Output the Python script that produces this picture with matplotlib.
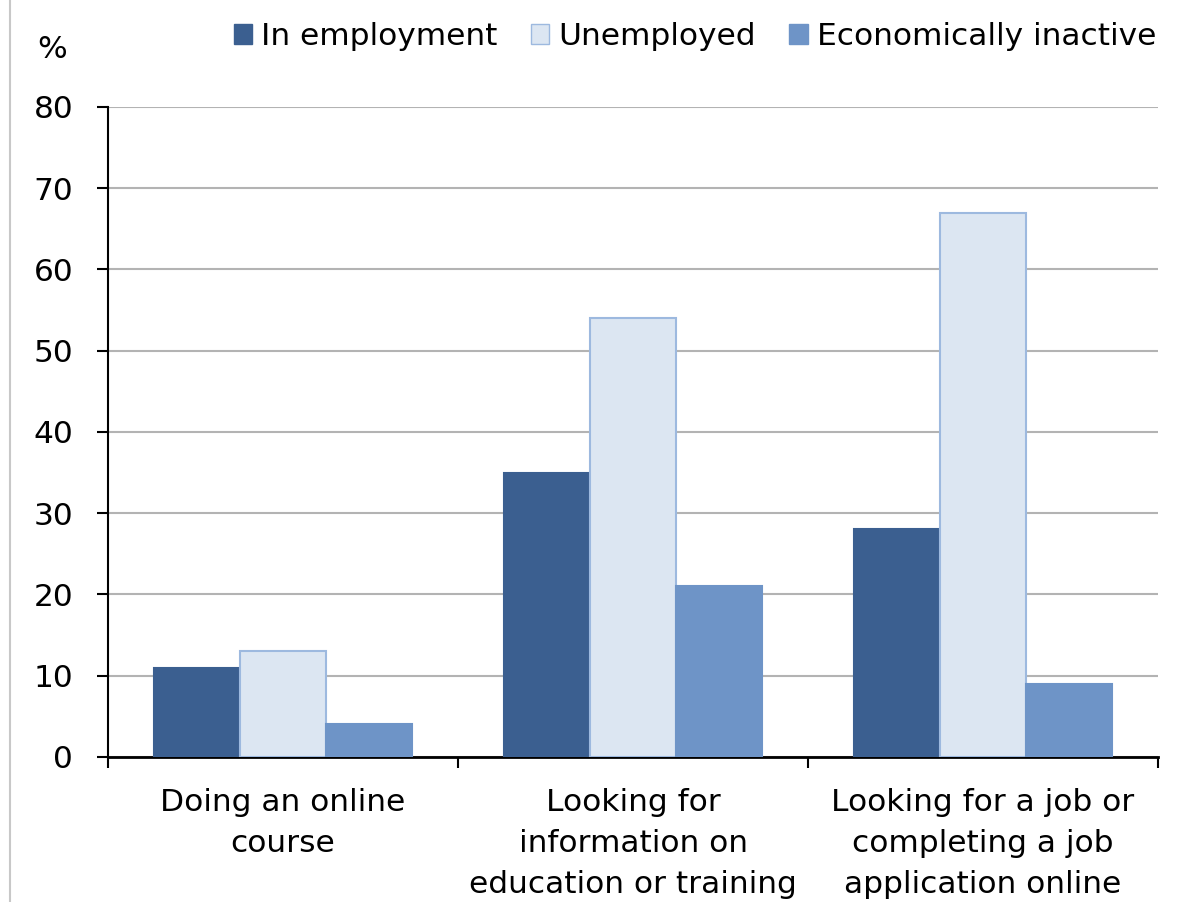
import matplotlib.pyplot as plt
import numpy as np
from matplotlib.lines import Line2D

plt.rcParams['font.family'] = ['DejaVu Sans']

categories = ['Doing an online\ncourse',
              'Looking for\ninformation on\neducation or training',
              'Looking for a job or\ncompleting a job\napplication online']
series_names = ['In employment', 'Unemployed', 'Economically inactive']
in_employment = [11, 35, 28]
unemployed = [13, 54, 67]
inactive = [4, 21, 9]
y_ticks = [0, 10, 20, 30, 40, 50, 60, 70, 80]

fill_colors = ['#3B5F90', '#DCE6F2', '#6E94C7']
edge_colors = ['#3B5F90', '#9DB9DF', '#6E94C7']
fs = 22.5

fig = plt.figure(figsize=(11.79, 9.02), dpi=100)
ax = fig.add_axes([0.0916, 0.1608, 0.8906, 0.7206])

x = np.arange(len(categories))
w = 0.246
for i, vals in enumerate([in_employment, unemployed, inactive]):
    ax.bar(x + (i - 1) * w, vals, width=w, color=fill_colors[i],
           edgecolor=edge_colors[i], linewidth=1.5, label=series_names[i], zorder=3)

ax.set_xlim(-0.5, 2.5)
ax.set_ylim(0, 80)
ax.set_yticks(y_ticks)
ax.yaxis.grid(True, color='#B3B3B3', linewidth=1.5, zorder=0)
ax.tick_params(axis='y', labelsize=fs, length=8, width=1.5, direction='out', pad=17)
ax.set_xticks([-0.5, 0.5, 1.5, 2.5])
ax.set_xticklabels([])
ax.tick_params(axis='x', length=8, width=1.5, direction='out')
for lab, xi in zip(categories, x):
    ax.text(xi, -3.8, lab, ha='center', va='top', fontsize=fs,
            linespacing=1.52, transform=ax.transData)
for s in ['top', 'right']:
    ax.spines[s].set_visible(False)
ax.spines['left'].set_linewidth(1.5)
ax.spines['bottom'].set_linewidth(2)

fig.text(52 / 1179, 1 - 50 / 902, '%', fontsize=fs, ha='center', va='center')

handles = [plt.Rectangle((0, 0), 1, 1, facecolor=fill_colors[i], edgecolor=edge_colors[i])
           for i in range(3)]
fig.legend(handles, series_names, loc='upper right', bbox_to_anchor=(1156 / 1179, 1 - 22 / 902),
           ncol=3, frameon=False, fontsize=fs, handlelength=0.6, handleheight=0.64,
           handletextpad=0.29, columnspacing=1.05, borderpad=0, borderaxespad=0)

fig.add_artist(Line2D([10 / 1179, 10 / 1179], [0, 1], color='#C8C8C8', linewidth=1.5))

fig.savefig('out.png', dpi=100)
